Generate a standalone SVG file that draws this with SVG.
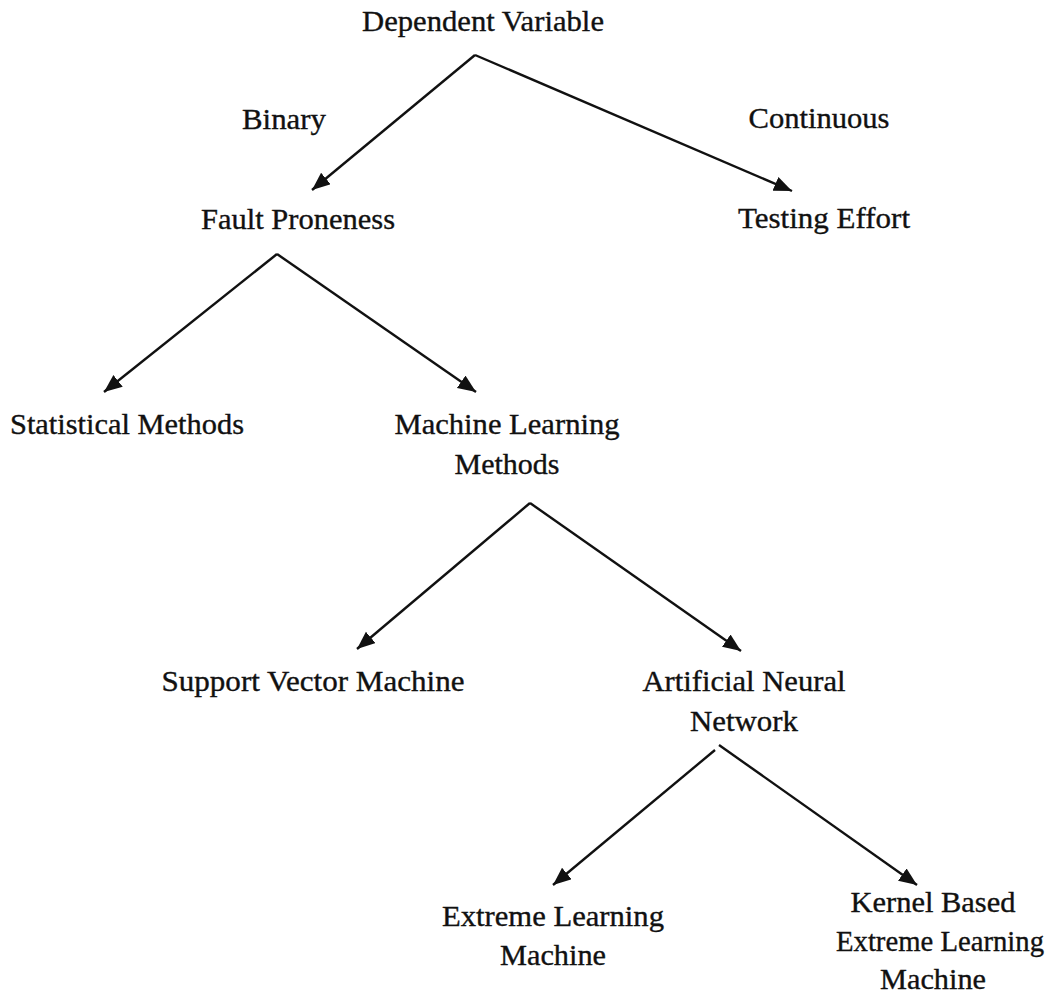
<svg xmlns="http://www.w3.org/2000/svg" width="1048" height="997" viewBox="0 0 1048 997">
<style>
text{font-family:"Liberation Serif","Times New Roman",serif;font-size:29px;fill:#111;stroke:#111;stroke-width:0.35;text-anchor:middle}
.c line{stroke:#111;stroke-width:2.4;fill:none;marker-end:url(#ah)}
</style>
<defs>
<marker id="ah" markerUnits="userSpaceOnUse" markerWidth="20" markerHeight="16" refX="18" refY="7.5" orient="auto">
<path d="M0,0 L18,7.5 L0,15 z" fill="#111"/>
</marker>
</defs>
<rect width="1048" height="997" fill="#fff"/>
<g class="c" id="connectors">
<line x1="475" y1="55" x2="312" y2="190"/>
<line x1="475" y1="55" x2="792" y2="191"/>
<line x1="277" y1="254" x2="104" y2="392"/>
<line x1="277" y1="254" x2="476" y2="392"/>
<line x1="530" y1="503" x2="357" y2="649"/>
<line x1="530" y1="503" x2="741" y2="651"/>
<line x1="715" y1="750" x2="553" y2="885"/>
<line x1="719" y1="745" x2="917" y2="885"/>
</g>
<g id="dependent-variable"><text x="483" y="31" textLength="242" lengthAdjust="spacingAndGlyphs">Dependent Variable</text></g>
<g id="label-binary"><text x="284" y="129" textLength="84" lengthAdjust="spacingAndGlyphs">Binary</text></g>
<g id="label-continuous"><text x="819" y="128" textLength="141" lengthAdjust="spacingAndGlyphs">Continuous</text></g>
<g id="fault-proneness"><text x="298" y="229" textLength="194" lengthAdjust="spacingAndGlyphs">Fault Proneness</text></g>
<g id="testing-effort"><text x="824" y="228" textLength="172" lengthAdjust="spacingAndGlyphs">Testing Effort</text></g>
<g id="statistical-methods"><text x="127" y="434" textLength="234" lengthAdjust="spacingAndGlyphs">Statistical Methods</text></g>
<g id="machine-learning-methods"><text x="507" y="434" textLength="225" lengthAdjust="spacingAndGlyphs">Machine Learning</text><text x="507" y="474" textLength="105" lengthAdjust="spacingAndGlyphs">Methods</text></g>
<g id="support-vector-machine"><text x="313" y="691" textLength="303" lengthAdjust="spacingAndGlyphs">Support Vector Machine</text></g>
<g id="artificial-neural-network"><text x="744" y="691" textLength="203" lengthAdjust="spacingAndGlyphs">Artificial Neural</text><text x="744" y="731" textLength="108" lengthAdjust="spacingAndGlyphs">Network</text></g>
<g id="extreme-learning-machine"><text x="553" y="926" textLength="222" lengthAdjust="spacingAndGlyphs">Extreme Learning</text><text x="553" y="965" textLength="106" lengthAdjust="spacingAndGlyphs">Machine</text></g>
<g id="kernel-based-elm"><text x="933" y="912" textLength="165" lengthAdjust="spacingAndGlyphs">Kernel Based</text><text x="940" y="951" textLength="208" lengthAdjust="spacingAndGlyphs">Extreme Learning</text><text x="933" y="989" textLength="106" lengthAdjust="spacingAndGlyphs">Machine</text></g>
</svg>
